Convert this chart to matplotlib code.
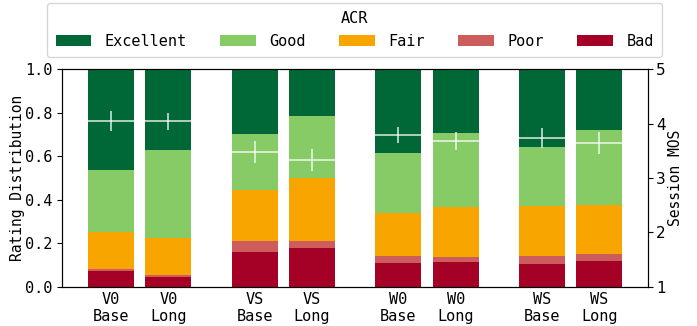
import matplotlib.pyplot as plt
import numpy as np

plt.rcParams['font.family'] = 'DejaVu Sans Mono'
plt.rcParams['font.size'] = 11

conditions = ['V0\nBase', 'V0\nLong', 'VS\nBase', 'VS\nLong',
              'W0\nBase', 'W0\nLong', 'WS\nBase', 'WS\nLong']
ratings = ['Excellent', 'Good', 'Fair', 'Poor', 'Bad']
colors = ['#006837', '#86cb66', '#f8a500', '#cd5c5c', '#a50026']

# share of each rating per condition (bottom to top: Bad .. Excellent)
bad = [0.072, 0.044, 0.159, 0.178, 0.110, 0.115, 0.106, 0.118]
poor = [0.009, 0.010, 0.051, 0.032, 0.031, 0.021, 0.035, 0.032]
fair = [0.170, 0.170, 0.236, 0.291, 0.198, 0.230, 0.231, 0.225]
good = [0.285, 0.404, 0.255, 0.283, 0.275, 0.341, 0.270, 0.345]
excellent = [0.464, 0.372, 0.299, 0.216, 0.386, 0.293, 0.358, 0.280]

# session MOS and confidence half-width
mos = [4.05, 4.04, 3.48, 3.33, 3.79, 3.68, 3.74, 3.64]
mos_ci = [0.18, 0.16, 0.20, 0.21, 0.15, 0.16, 0.18, 0.20]

width = 0.32
x = np.array([g + d for g in range(4) for d in (-0.2, 0.2)])

fig, ax = plt.subplots(figsize=(6.97, 3.26), dpi=100)
ax2 = ax.twinx()

stack = [bad, poor, fair, good, excellent]
bottom = np.zeros(len(x))
handles = {}
for name, col, vals in zip(ratings[::-1], colors[::-1], stack):
    handles[name] = ax.bar(x, vals, width, bottom=bottom, color=col, label=name)
    bottom += np.array(vals)

ax2.errorbar(x, mos, yerr=mos_ci, xerr=width / 2, fmt='none',
             ecolor='white', elinewidth=1.2, alpha=0.8)

ax.set_xlim(-0.54, 3.54)
ax.set_ylim(0, 1)
ax2.set_ylim(1, 5)
ax.set_xticks(x)
ax.set_xticklabels(conditions)
ax.tick_params(axis='x', length=0)
ax.set_ylabel('Rating Distribution', fontsize=10.5, labelpad=0)
ax2.set_ylabel('Session MOS', fontsize=10.5, labelpad=2)
ax2.set_yticks([1, 2, 3, 4, 5])
ax2.tick_params(axis='y', pad=2)
for lbl in ax2.get_yticklabels():
    lbl.set_family('DejaVu Sans')

ax.legend([handles[r] for r in ratings], ratings, title='ACR', ncol=5,
          loc='upper center', bbox_to_anchor=(0.509, 0.992),
          bbox_transform=fig.transFigure, frameon=True, borderaxespad=0,
          borderpad=0.55, handleheight=0.75,
          handlelength=2.3, handletextpad=0.9, columnspacing=2.2)

fig.subplots_adjust(left=0.089, right=0.93, bottom=0.12, top=0.788)
fig.savefig('out.png')
